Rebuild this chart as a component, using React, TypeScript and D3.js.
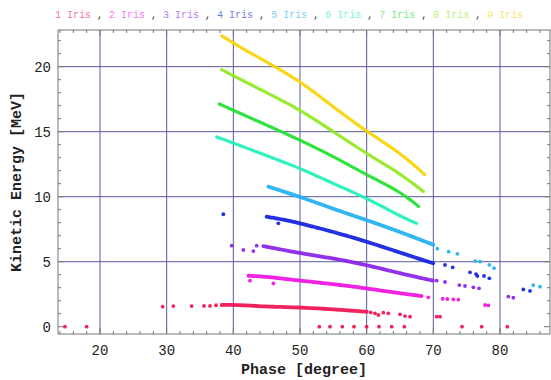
import React from "react";
import * as d3 from "d3";

const seriesNames = ["1 Iris", "2 Iris", "3 Iris", "4 Iris", "5 Iris", "6 Iris", "7 Iris", "8 Iris", "9 Iris"];
const seriesColors = ["#f01050", "#f010e0", "#8a20e8", "#1020e0", "#20b0f0", "#20f0b8", "#20e030", "#90e820", "#f8d400"];
const xTicks = [20, 30, 40, 50, 60, 70, 80];
const yTicks = [0, 5, 10, 15, 20];

type P = [number, number];

const iris1Band: P[] = [[38.25, 1.67], [40, 1.7], [45, 1.54], [50, 1.49], [55, 1.34], [60, 1.15]];
const iris1Dots: P[] = [[14.75, 0], [18, 0], [29.4, 1.54], [31, 1.59], [33.75, 1.59], [35.6, 1.6], [36.5, 1.6], [37.4, 1.65], [60.6, 1.1], [61.25, 1.03], [61.75, 0.9], [62.5, 1.08], [63.25, 1.03], [65, 0.95], [65.75, 0.82], [66.5, 0.77], [70.5, 0.77], [71, 0.77], [52.9, 0], [54.5, 0], [56.35, 0], [58.1, 0], [60, 0], [61.85, 0], [63.75, 0], [65.65, 0], [74.3, 0], [77.25, 0], [81.1, 0]];
const iris2Band: P[] = [[42.25, 3.92], [45, 3.85], [50, 3.54], [55, 3.28], [60, 2.95], [65, 2.57], [68.25, 2.36]];
const iris2Dots: P[] = [[42.5, 3.54], [46, 3.33], [69.25, 2.26], [71.4, 2.15], [72.1, 2.13], [73, 2.1], [73.75, 2.08], [77.75, 1.67], [78.25, 1.64]];
const iris3Band: P[] = [[44.5, 6.2], [50, 5.65], [55, 5.26], [60, 4.75], [65, 4.1], [70, 3.54]];
const iris3Dots: P[] = [[39.75, 6.23], [41.5, 5.9], [43, 5.82], [43.5, 6.23], [70.5, 3.54], [71.75, 3.44], [73.9, 3.2], [74.75, 3.13], [76, 3.03], [76.85, 2.95], [81.25, 2.31], [82, 2.23]];
const iris4Band: P[] = [[45, 8.46], [48, 8.2], [50, 7.95], [55, 7.3], [60, 6.55], [65, 5.7], [70, 4.87]];
const iris4Dots: P[] = [[38.5, 8.65], [46.75, 7.95], [71.75, 4.75], [72.9, 4.57], [75.5, 4.18], [76.4, 4.05], [76.6, 3.9], [77.6, 3.9], [78.4, 3.72], [83.5, 2.87], [84.5, 2.75]];
const iris5Band: P[] = [[45.25, 10.77], [50, 10.0], [55, 9.06], [60, 8.2], [65, 7.3], [70, 6.3]];
const iris5Dots: P[] = [[70.6, 6.0], [72.3, 5.77], [73.6, 5.6], [76.3, 5.05], [77, 5.0], [78.4, 4.75], [79.1, 4.5], [85, 3.2], [86, 3.08]];
const iris6Band: P[] = [[37.5, 14.6], [40, 14.13], [45, 13.15], [50, 12.2], [55, 11.0], [60, 9.9], [65, 8.5], [67.5, 7.95]];
const iris6Dots: P[] = [];
const iris7Band: P[] = [[37.9, 17.13], [40, 16.65], [45, 15.5], [50, 14.36], [55, 13.1], [60, 11.67], [65, 10.4], [67.8, 9.25]];
const iris7Dots: P[] = [];
const iris8Band: P[] = [[38.25, 19.77], [40, 19.3], [45, 18.0], [50, 16.7], [55, 15.0], [60, 13.3], [65, 11.8], [68.5, 10.4]];
const iris8Dots: P[] = [];
const iris9Band: P[] = [[38.3, 22.36], [40, 21.8], [45, 20.35], [50, 18.9], [55, 16.9], [60, 15.0], [65, 13.4], [68.7, 11.7]];
const iris9Dots: P[] = [];

const bands = [iris1Band, iris2Band, iris3Band, iris4Band, iris5Band, iris6Band, iris7Band, iris8Band, iris9Band];
const dots = [iris1Dots, iris2Dots, iris3Dots, iris4Dots, iris5Dots, iris6Dots, iris7Dots, iris8Dots, iris9Dots];

const W = 551;
const H = 380;
const L = 58, R = 550, T = 30, B = 334;

export default function App() {
  const x = d3.scaleLinear().domain([13.7, 87.5]).range([L, R]);
  const y = d3.scaleLinear().domain([-0.56, 22.82]).range([B, T]);
  const line = d3.line<P>().x((d) => x(d[0])).y((d) => y(d[1])).curve(d3.curveBasis);
  const mono = "'Liberation Mono', 'DejaVu Sans Mono', monospace";
  const gridColor = "#5a5aa0";
  const frameColor = "#777";

  const xMinor = d3.range(14, 88, 2);
  const yMinor = d3.range(0, 23, 1);

  return (
    <svg width={W} height={H} style={{ position: "absolute", left: 0, top: 0, background: "#fff" }}>
      {xTicks.map((t) => (
        <line key={"gx" + t} x1={x(t)} x2={x(t)} y1={T} y2={B} stroke={gridColor} strokeWidth={1} />
      ))}
      {yTicks.filter((t) => t > 0).map((t) => (
        <line key={"gy" + t} x1={L} x2={R} y1={y(t)} y2={y(t)} stroke={gridColor} strokeWidth={1} />
      ))}
      <rect x={L} y={T} width={R - L} height={B - T} fill="none" stroke={frameColor} strokeWidth={1} />
      {xMinor.map((t) => {
        const major = t % 10 === 0;
        const len = major ? 6 : 3;
        return (
          <g key={"xt" + t}>
            <line x1={x(t)} x2={x(t)} y1={B} y2={B - len} stroke={frameColor} />
            <line x1={x(t)} x2={x(t)} y1={T} y2={T + len} stroke={frameColor} />
          </g>
        );
      })}
      {yMinor.map((t) => {
        const major = t % 5 === 0;
        const len = major ? 6 : 3;
        return (
          <g key={"yt" + t}>
            <line x1={L} x2={L + len} y1={y(t)} y2={y(t)} stroke={frameColor} />
            <line x1={R} x2={R - len} y1={y(t)} y2={y(t)} stroke={frameColor} />
          </g>
        );
      })}
      {bands.map((b, i) => (
        <path
          key={"b" + i}
          d={line(b) || ""}
          fill="none"
          stroke={seriesColors[i]}
          strokeWidth={i < 5 ? 3.8 : 3.2}
          strokeLinecap="round"
          strokeDasharray={i >= 5 ? "9,1.5" : "5,1"}
          opacity={0.92}
        />
      ))}
      {dots.map((ds, i) =>
        ds.map((d, j) => (
          <circle key={"d" + i + "-" + j} cx={x(d[0])} cy={y(d[1])} r={1.9} fill={seriesColors[i]} opacity={0.92} />
        ))
      )}
      {xTicks.map((t) => (
        <text key={"xl" + t} x={x(t)} y={355} textAnchor="middle" fontFamily={mono} fontSize={14} fill="#222">
          {t}
        </text>
      ))}
      {yTicks.map((t) => (
        <text key={"yl" + t} x={51} y={y(t) + 5} textAnchor="end" fontFamily={mono} fontSize={14} fill="#222">
          {t}
        </text>
      ))}
      <text x={304} y={374} textAnchor="middle" fontFamily={mono} fontSize={15} fontWeight="bold" fill="#222">
        Phase [degree]
      </text>
      <text
        transform={`translate(21,182) rotate(-90)`}
        textAnchor="middle"
        fontFamily={mono}
        fontSize={15}
        fontWeight="bold"
        fill="#222"
      >
        Kinetic Energy [MeV]
      </text>
      <text x={55} y={18} fontFamily={mono} fontSize={10} xmlSpace="preserve">
        {seriesNames.map((n, i) => (
          <React.Fragment key={"lg" + i}>
            <tspan fill={seriesColors[i]} opacity={0.6}>{n}</tspan>
            {i < seriesNames.length - 1 ? <tspan fill="#333">{" , "}</tspan> : null}
          </React.Fragment>
        ))}
      </text>
    </svg>
  );
}
